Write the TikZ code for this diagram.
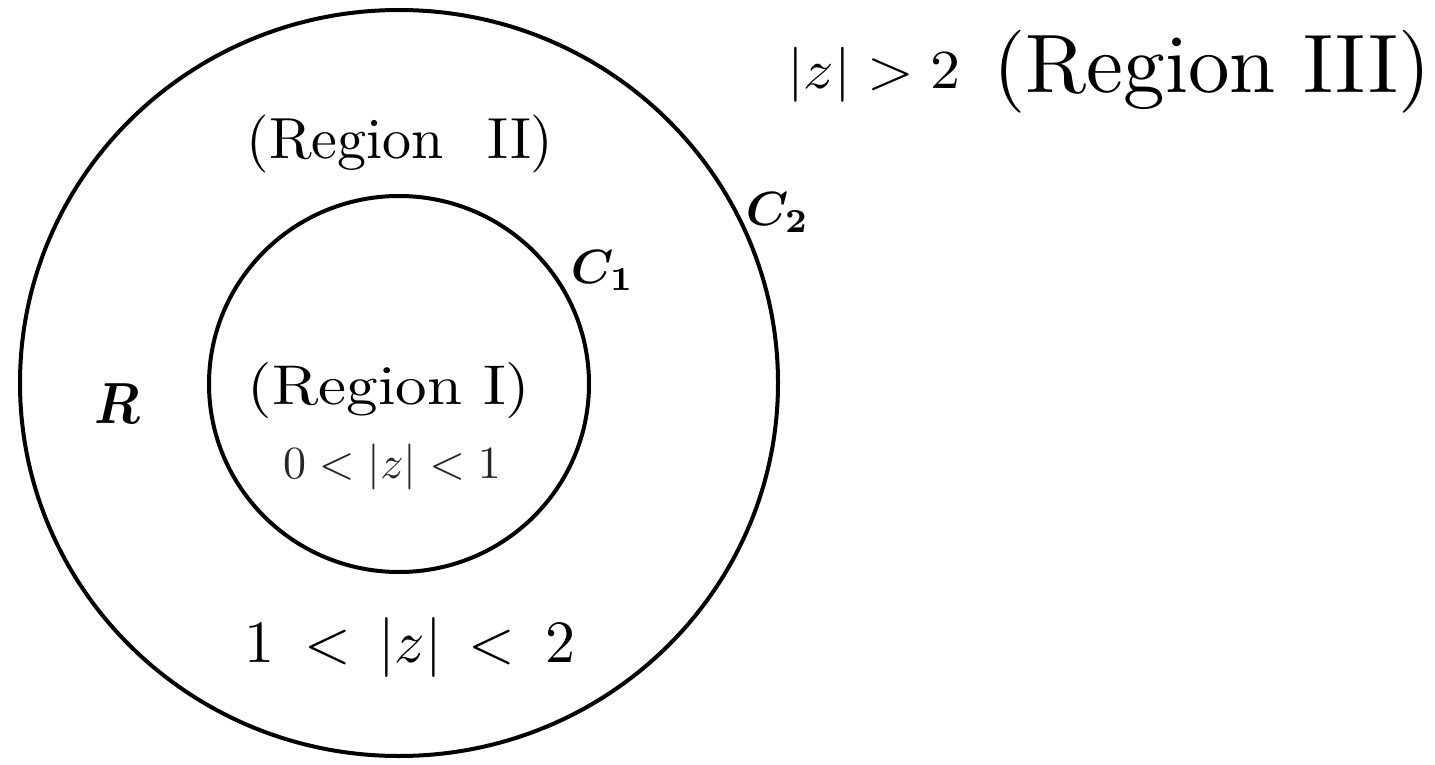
\documentclass[tikz,border=0pt]{standalone}
\usepackage{amsmath,bm}
\begin{document}
\begin{tikzpicture}[x=1pt,y=-1pt,
  ring/.style={draw=black,line width=4pt},
  lbl/.style={inner sep=0pt,anchor=base}]
\useasboundingbox (0,0) rectangle (1435,765);
\draw[ring] (399,383) ellipse [x radius=379, y radius=373];
\draw[ring] (399,384) ellipse [x radius=190, y radius=188];
\node[lbl,xscale=6.0,yscale=5.5] (m3) at (874,89) {$|z|>2$};
\node[lbl,scale=8.3] (r3) at (1212,93) {(Region III)};
\node[lbl,scale=5.8] (r2) at (400,159) {(Region\hspace{4.2pt}\ II)};
\node[lbl,xscale=6.3,yscale=5.6] (r1) at (389,404) {(Region I)};
\node[lbl,scale=4.6,text=black!85] (d1) at (392,478) {$0<|z|<1$};
\node[lbl,scale=6] (d2) at (410,662) {$1\mskip4mu<\mskip3mu|z|\mskip3mu<\mskip4mu2$};
\node[lbl,scale=4.8,anchor=base west] (c2) at (745,225) {$\bm{C}_{\mathbf 2}$};
\node[lbl,scale=4.8,anchor=base west] (c1) at (570,283) {$\bm{C}_{\mathbf 1}$};
\node[lbl,xscale=5.2,yscale=5.8] (rr) at (117,423) {$\bm{R}$};
\end{tikzpicture}
\end{document}
